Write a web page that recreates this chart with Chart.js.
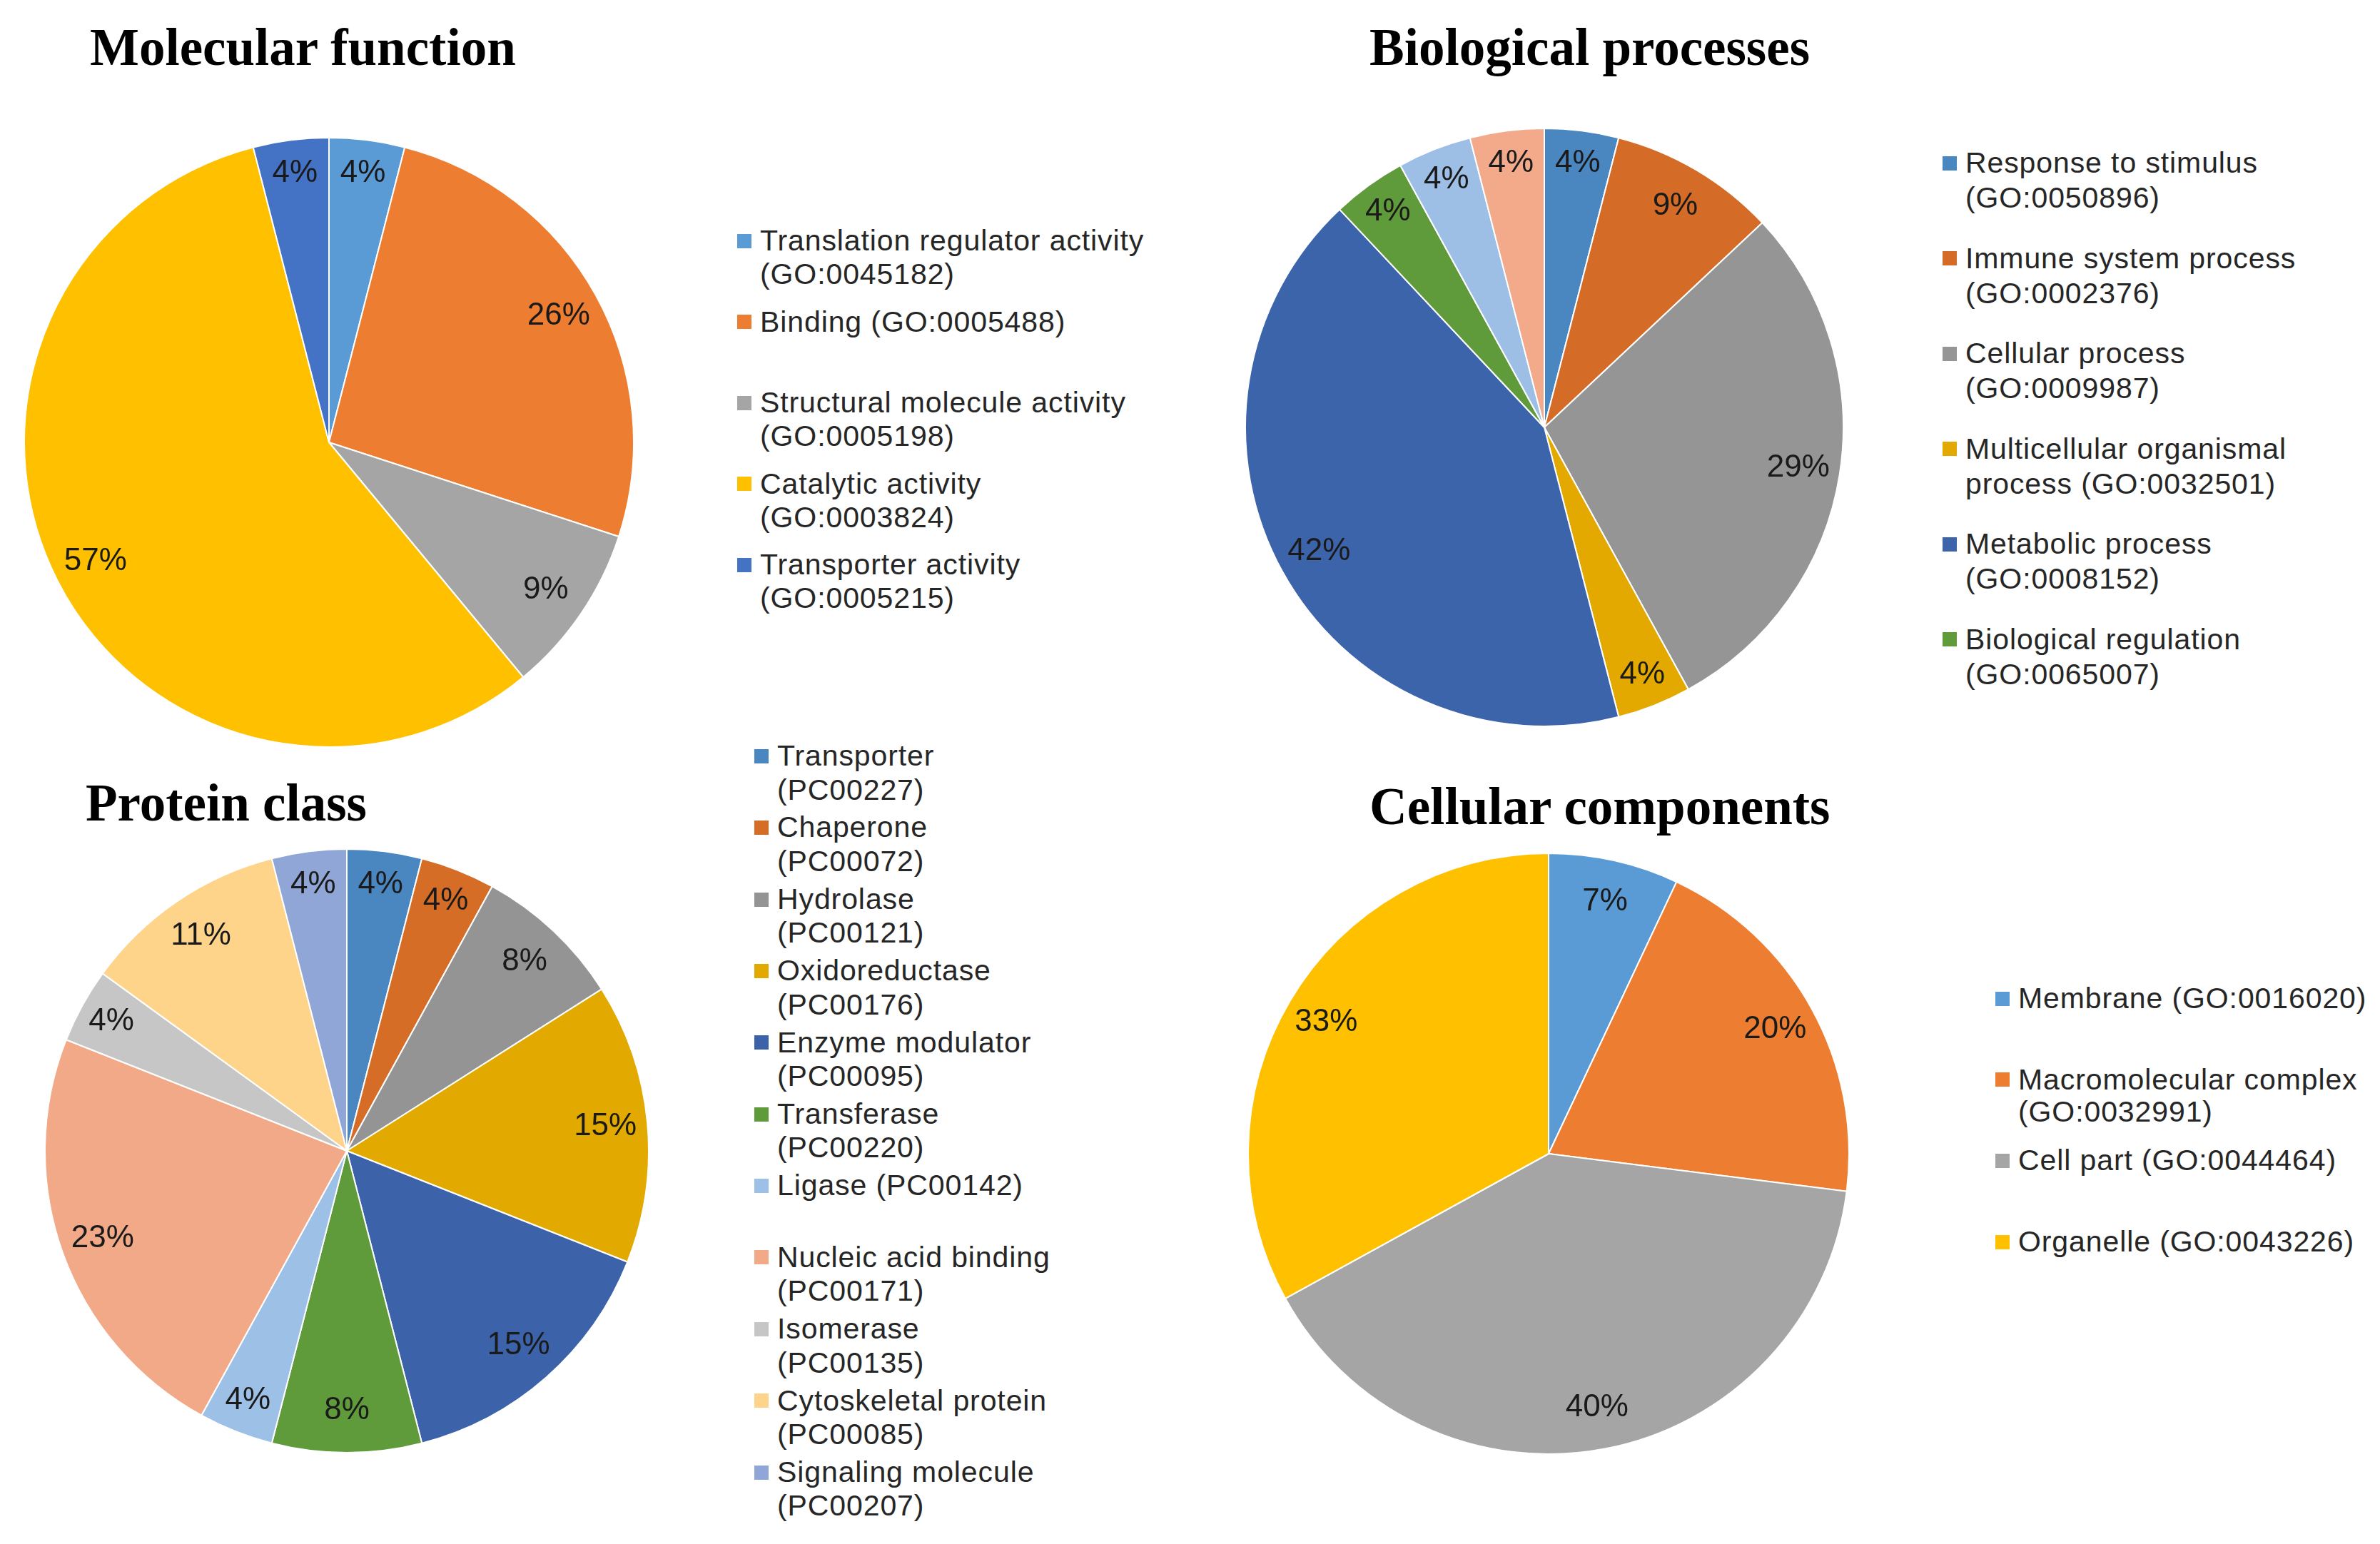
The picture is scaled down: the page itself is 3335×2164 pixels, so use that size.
<!DOCTYPE html>
<html>
<head>
<meta charset="utf-8">
<title>GO / Protein class pies</title>
<script src="https://cdn.jsdelivr.net/npm/chart.js@4.4.0/dist/chart.umd.min.js"></script>
<style>
  body {
    margin: 0;
    width: 3335px;
    height: 2164px;
    position: relative;
    overflow: hidden;
    background: #fff;
    font-family: "Liberation Sans", Arial, sans-serif;
  }
  .title {
    position: absolute;
    font-family: "Liberation Serif", "Times New Roman", serif;
    font-weight: bold;
    font-size: 73px;
    line-height: 1;
    color: #000;
    white-space: nowrap;
  }
  canvas { position: absolute; }
  .legend { position: absolute; font-size: 41px; letter-spacing: 0.9px; color: #262626; }
  .legend .item { position: relative; white-space: pre; }
  .legend .box { position: absolute; width: 20px; height: 20px; }
</style>
</head>
<body>

<div class="title" style="left:126px; top:30px;">Molecular function</div>
<div class="title" style="left:1919px; top:30px;">Biological processes</div>
<div class="title" style="left:120px; top:1089px;">Protein class</div>
<div class="title" style="left:1919px; top:1094px;">Cellular components</div>

<canvas id="mf"></canvas>
<canvas id="bp"></canvas>
<canvas id="pc"></canvas>
<canvas id="cc"></canvas>

<div class="legend" id="mfLegend"></div>
<div class="legend" id="bpLegend"></div>
<div class="legend" id="pcLegend"></div>
<div class="legend" id="ccLegend"></div>

<script>
// Molecular function
const mfLabels = [
  "Translation regulator activity\n(GO:0045182)",
  "Binding (GO:0005488)",
  "Structural molecule activity\n(GO:0005198)",
  "Catalytic activity\n(GO:0003824)",
  "Transporter activity\n(GO:0005215)"
];
const mfValues = [4, 26, 9, 57, 4];
const mfColors = ["#5B9BD5", "#ED7D31", "#A5A5A5", "#FFC000", "#4472C4"];

// Biological processes (last two slices have no legend entry)
const bpLabels = [
  "Response to stimulus\n(GO:0050896)",
  "Immune system process\n(GO:0002376)",
  "Cellular process\n(GO:0009987)",
  "Multicellular organismal\nprocess (GO:0032501)",
  "Metabolic process\n(GO:0008152)",
  "Biological regulation\n(GO:0065007)"
];
const bpValues = [4, 9, 29, 4, 42, 4, 4, 4];
const bpColors = ["#4A86C0", "#D46B27", "#959595", "#E3A900", "#3C64AA", "#5F9B3B", "#9DBFE5", "#F2AA8B"];

// Protein class
const pcLabels = [
  "Transporter\n(PC00227)",
  "Chaperone\n(PC00072)",
  "Hydrolase\n(PC00121)",
  "Oxidoreductase\n(PC00176)",
  "Enzyme modulator\n(PC00095)",
  "Transferase\n(PC00220)",
  "Ligase (PC00142)",
  "Nucleic acid binding\n(PC00171)",
  "Isomerase\n(PC00135)",
  "Cytoskeletal protein\n(PC00085)",
  "Signaling molecule\n(PC00207)"
];
const pcValues = [4, 4, 8, 15, 15, 8, 4, 23, 4, 11, 4];
const pcColors = ["#4A86C0", "#D56D26", "#949494", "#E2AA00", "#3C63AA", "#5F9B3B", "#9DC0E6", "#F2A988", "#C6C6C6", "#FED48A", "#8FA6D6"];

// Cellular components
const ccLabels = [
  "Membrane (GO:0016020)",
  "Macromolecular complex\n(GO:0032991)",
  "Cell part (GO:0044464)",
  "Organelle (GO:0043226)"
];
const ccValues = [7, 20, 40, 33];
const ccColors = ["#5B9BD5", "#ED7D31", "#A5A5A5", "#FFC000"];

// percent text inside each slice
const pctLabels = {
  id: "pctLabels",
  afterDatasetsDraw(chart) {
    const ctx = chart.ctx;
    const values = chart.data.datasets[0].data;
    chart.getDatasetMeta(0).data.forEach((arc, i) => {
      const p = arc.getProps(["x", "y", "startAngle", "endAngle", "outerRadius"], true);
      const mid = (p.startAngle + p.endAngle) / 2;
      const k = values[i] < 6 ? 0.89 : 0.86;
      ctx.save();
      ctx.font = '44px "Liberation Sans", Arial, sans-serif';
      ctx.fillStyle = "#1a1a1a";
      ctx.textAlign = "center";
      ctx.textBaseline = "middle";
      ctx.fillText(values[i] + "%", p.x + Math.cos(mid) * p.outerRadius * k, p.y + Math.sin(mid) * p.outerRadius * k);
      ctx.restore();
    });
  }
};

function makePie(id, cx, cy, r, labels, values, colors) {
  const canvas = document.getElementById(id);
  const size = 2 * r + 2;
  canvas.width = size;
  canvas.height = size;
  canvas.style.left = (cx - r - 1) + "px";
  canvas.style.top = (cy - r - 1) + "px";

  return new Chart(canvas.getContext("2d"), {
    type: "pie",
    data: {
      labels: labels,
      datasets: [{
        data: values,
        backgroundColor: colors,
        borderColor: "#ffffff",
        borderWidth: 2
      }]
    },
    options: {
      responsive: false,
      animation: false,
      layout: { padding: 0 },
      plugins: {
        legend: { display: false },
        tooltip: { enabled: false }
      }
    },
    plugins: [pctLabels]
  });
}

function makeLegend(id, left, top, rowHeight, lineHeight, labels, colors) {
  const el = document.getElementById(id);
  el.style.left = left + "px";
  el.style.top = top + "px";
  labels.forEach((label, i) => {
    const item = document.createElement("div");
    item.className = "item";
    item.style.height = rowHeight + "px";
    item.style.lineHeight = lineHeight + "px";
    item.style.paddingLeft = "32px";
    item.textContent = label;

    const box = document.createElement("div");
    box.className = "box";
    box.style.left = "0px";
    box.style.top = (lineHeight / 2 - 10) + "px";
    box.style.background = colors[i];
    item.appendChild(box);
    el.appendChild(item);
  });
}

makePie("mf", 461, 620, 427, mfLabels, mfValues, mfColors);
makePie("bp", 2164, 599, 419, bpLabels, bpValues, bpColors);
makePie("pc", 486, 1613, 423, pcLabels, pcValues, pcColors);
makePie("cc", 2170, 1617, 421, ccLabels, ccValues, ccColors);

makeLegend("mfLegend", 1033, 314, 113.5, 47, mfLabels, mfColors);
makeLegend("bpLegend", 2722, 204, 133.6, 49, bpLabels, bpColors);
makeLegend("pcLegend", 1057, 1036, 100.4, 47.5, pcLabels, pcColors);
makeLegend("ccLegend", 2796, 1377, 113.7, 45, ccLabels, ccColors);
</script>
</body>
</html>
